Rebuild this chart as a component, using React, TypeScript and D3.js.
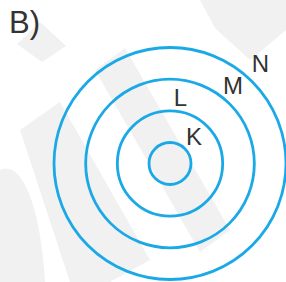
import React from "react";
import * as d3 from "d3";

// electron shells, innermost first
const shells = ["K", "L", "M", "N"];
const shellIndex = [1, 2, 3, 4];
// label placement: angle above the x-axis (deg) and distance from centre (px)
const labelAngles = [48, 81, 51, 48];
const labelDist = [36, 67, 100, 135];
const panelLabel = "B)";

const W = 286;
const H = 282;
const cx = 170;
const cy = 163.5;
const ringColor = "#1aa9e6";

const App = () => {
  const r = d3.scaleLinear().domain([1, 4]).range([21, 116]);

  return (
    <svg
      width={W}
      height={H}
      style={{ position: "fixed", left: 0, top: 0, background: "#fff" }}
    >
      {/* faint watermark */}
      <g fill="#f1f1f1">
        <polygon points="17,44 40,22 66,46 42,62" />
        <polygon points="20,130 60,102 150,260 110,282 70,282" />
        <polygon points="95,70 125,48 230,230 200,252" />
        <polygon points="200,0 286,0 286,30 250,60 215,28" />
        <path d="M0,170 C20,160 40,200 45,282 L0,282 Z" />
      </g>

      <text
        x={9}
        y={33}
        fontFamily="Liberation Sans, Arial, sans-serif"
        fontSize={31}
        fill="#333"
      >
        {panelLabel}
      </text>

      <g transform={`translate(${cx},${cy})`}>
        {shellIndex.map((d, i) => (
          <circle
            key={shells[i]}
            r={r(d)}
            fill="none"
            stroke={ringColor}
            strokeWidth={2.8}
          />
        ))}
        {shells.map((s, i) => {
          const a = (labelAngles[i] * Math.PI) / 180;
          return (
            <text
              key={s}
              x={Math.cos(a) * labelDist[i]}
              y={-Math.sin(a) * labelDist[i]}
              textAnchor="middle"
              dominantBaseline="central"
              fontFamily="Liberation Sans, Arial, sans-serif"
              fontSize={24}
              fill="#333"
            >
              {s}
            </text>
          );
        })}
      </g>
    </svg>
  );
};

export default App;
